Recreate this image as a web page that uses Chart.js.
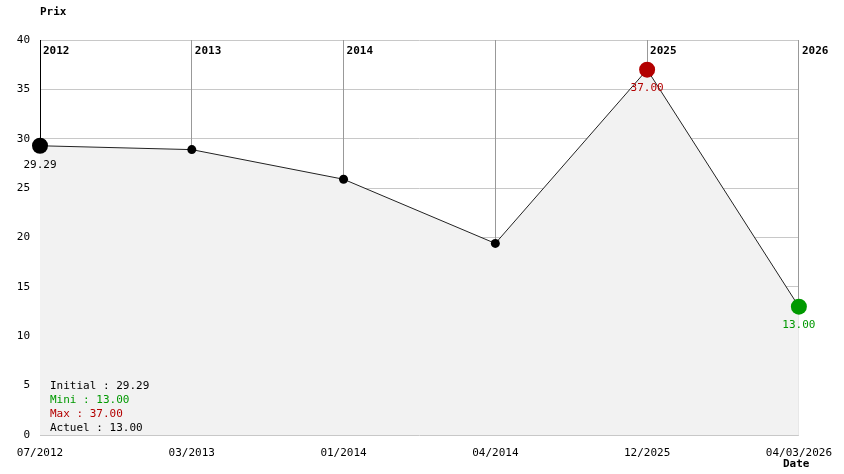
<!DOCTYPE html>
<html>
<head>
<meta charset="utf-8">
<script src="https://cdn.jsdelivr.net/npm/chart.js@4"></script>
<style>
  html, body { margin: 0; padding: 0; background: #fff; }
  #wrap { width: 844px; height: 474px; }
</style>
</head>
<body>
<div id="wrap"><canvas id="chart"></canvas></div>
<script>
const dates = ["07/2012", "03/2013", "01/2014", "04/2014", "12/2025", "04/03/2026"];
const prices = [29.29, 28.9, 25.9, 19.4, 37.0, 13.0];
const yearMarks = ["2012", "2013", "2014", "", "2025", "2026"];
const yTicks = [0, 5, 10, 15, 20, 25, 30, 35, 40];

const FONT = "'DejaVu Sans Mono', monospace";
const maxIdx = prices.indexOf(Math.max(...prices));
const minIdx = prices.indexOf(Math.min(...prices));

function pointColor(i) {
  if (i === maxIdx) return "#b30000";
  if (i === minIdx) return "#009900";
  return "#000";
}
function pointSize(i) {
  return i === 0 || i === maxIdx || i === minIdx ? 8 : 4.5;
}

const overlay = {
  id: "overlay",
  afterDraw(chart) {
    const { ctx, chartArea, scales } = chart;
    const x = scales.x, y = scales.y;
    ctx.save();
    ctx.font = "bold 11px " + FONT;
    ctx.textBaseline = "middle";
    yearMarks.forEach((yr, i) => {
      if (!yr) return;
      const px = x.getPixelForValue(i);
      ctx.fillStyle = "#000";
      ctx.fillText(yr, px + 3, chartArea.top + 11);
    });
    ctx.font = "11px " + FONT;
    ctx.textAlign = "center";
    [0, maxIdx, minIdx].forEach((i) => {
      const px = x.getPixelForValue(i);
      const py = y.getPixelForValue(prices[i]);
      ctx.fillStyle = i === 0 ? "#000" : pointColor(i);
      ctx.fillText(prices[i].toFixed(2), px, py + 19);
    });
    ctx.textAlign = "left";
    const lines = [
      ["Initial : " + prices[0].toFixed(2), "#000"],
      ["Mini : " + prices[minIdx].toFixed(2), "#009900"],
      ["Max : " + prices[maxIdx].toFixed(2), "#b30000"],
      ["Actuel : " + prices[prices.length - 1].toFixed(2), "#000"],
    ];
    lines.forEach(([t, c], k) => {
      ctx.fillStyle = c;
      ctx.fillText(t, 50, 386 + k * 14);
    });
    ctx.font = "bold 11px " + FONT;
    ctx.fillStyle = "#000";
    ctx.fillText("Prix", 40, 12);
    ctx.fillText("Date", 783, 464);
    ctx.restore();
  },
};

new Chart(document.getElementById("chart"), {
  type: "line",
  data: {
    labels: dates,
    datasets: [{
      data: prices,
      borderColor: "#222",
      borderWidth: 1,
      backgroundColor: "#f2f2f2",
      fill: "origin",
      tension: 0,
      pointRadius: prices.map((v, i) => pointSize(i)),
      pointBackgroundColor: prices.map((v, i) => pointColor(i)),
      pointBorderColor: prices.map((v, i) => pointColor(i)),
      pointBorderWidth: 0,
    }],
  },
  options: {
    responsive: true,
    maintainAspectRatio: false,
    animation: false,
    layout: { padding: { top: 40, right: 34, left: 0, bottom: 0 } },
    plugins: { legend: { display: false }, tooltip: { enabled: false } },
    scales: {
      x: {
        offset: false,
        afterFit(s) { s.height = 39; },
        grid: {
          color: (c) => (c.index === 0 ? "#000" : "#999"),
          drawTicks: false,
          z: 0,
        },
        border: { display: false },
        ticks: {
          color: "#000",
          font: { family: FONT, size: 11 },
          maxRotation: 0,
          autoSkip: false,
          padding: 12,
        },
      },
      y: {
        min: 0,
        max: 40,
        afterFit(s) { s.width = 40; },
        afterBuildTicks(s) { s.ticks = yTicks.map((v) => ({ value: v })); },
        grid: { color: "#c8c8c8", drawTicks: false },
        border: { display: false },
        ticks: {
          color: "#000",
          font: { family: FONT, size: 11 },
          padding: 10,
        },
      },
    },
  },
  plugins: [overlay],
});
</script>
</body>
</html>
